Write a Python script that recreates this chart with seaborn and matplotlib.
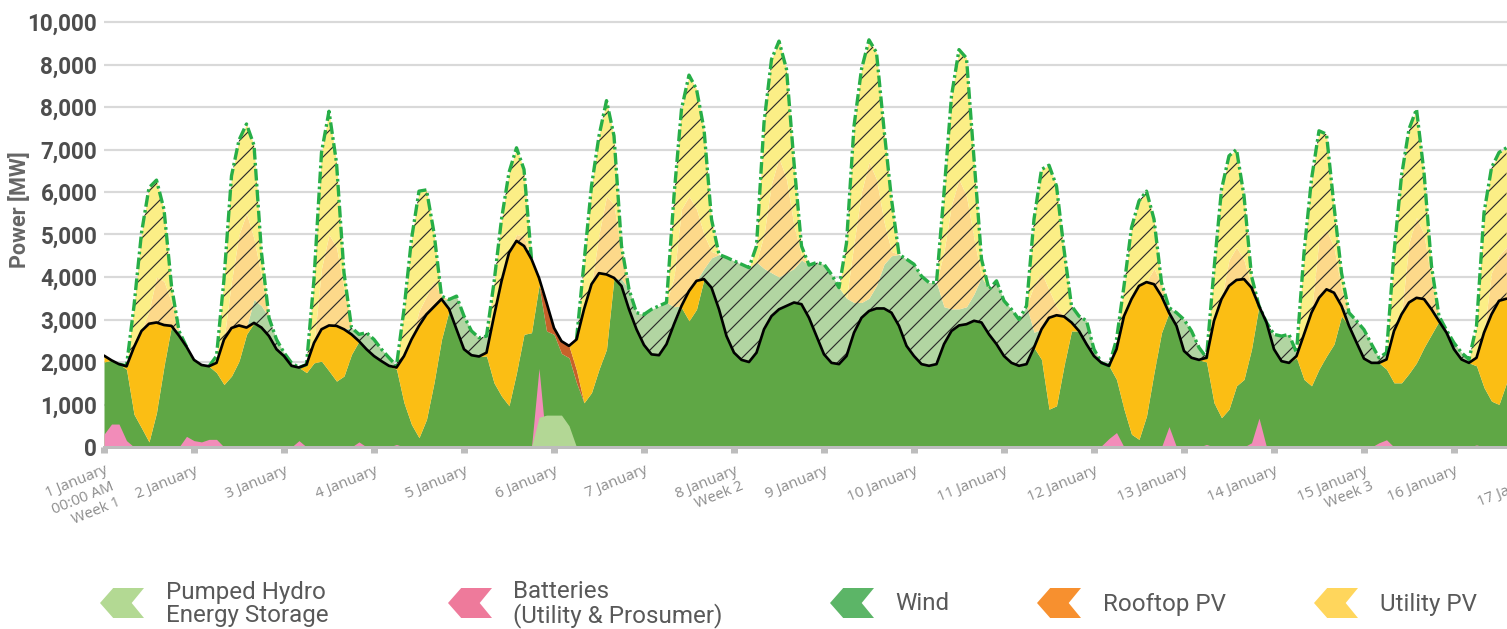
import numpy as np
import matplotlib
matplotlib.use('Agg')
import matplotlib.pyplot as plt
from matplotlib.patches import Polygon
import seaborn as sns

# two-hourly values, 12 per day, starting 1 January 00:00
demand = [
    2150, 2040, 1950, 1900, 2350, 2730, 2900, 2930, 2870, 2850, 2620, 2360,
    2050, 1930, 1900, 1980, 2530, 2800, 2860, 2810, 2920, 2810, 2610, 2300,
    2140, 1910, 1870, 1940, 2450, 2770, 2860, 2850, 2770, 2650, 2490, 2300,
    2140, 2020, 1910, 1870, 2140, 2530, 2850, 3120, 3300, 3480, 3250, 2770,
    2300, 2160, 2130, 2220, 3080, 3900, 4570, 4850, 4730, 4420, 3980, 3400,
    2800, 2490, 2380, 2530, 3240, 3830, 4090, 4060, 3980, 3790, 3240, 2770,
    2400, 2180, 2160, 2420, 2890, 3320, 3670, 3910, 3950, 3750, 3240, 2610,
    2220, 2050, 2000, 2220, 2770, 3080, 3240, 3320, 3400, 3360, 3040, 2610,
    2180, 1980, 1950, 2140, 2690, 3040, 3200, 3260, 3260, 3160, 2850, 2380,
    2140, 1950, 1910, 1950, 2420, 2730, 2860, 2890, 2970, 2930, 2650, 2420,
    2140, 1980, 1910, 1950, 2340, 2770, 3040, 3100, 3070, 2930, 2730, 2420,
    2140, 1980, 1910, 2300, 3080, 3480, 3790, 3880, 3830, 3550, 3160, 2850,
    2260, 2100, 2050, 2100, 2970, 3480, 3790, 3930, 3950, 3750, 3320, 2930,
    2300, 2020, 1980, 2140, 2650, 3160, 3510, 3710, 3630, 3320, 2850, 2460,
    2080, 1980, 1980, 2060, 2730, 3120, 3400, 3510, 3480, 3240, 2960, 2690,
    2300, 2060, 1980, 2100, 2690, 3120, 3440, 3490,
]

# top of the wind area actually used
wind = [
    2000, 2040, 1950, 1830, 770, 450, 120, 810, 1900, 2850, 2620, 2360,
    2050, 1930, 1900, 1750, 1470, 1670, 2020, 2650, 2920, 2810, 2610, 2300,
    2140, 1910, 1870, 1750, 1980, 2020, 1790, 1550, 1670, 2180, 2490, 2300,
    2140, 2020, 1910, 1830, 1040, 530, 220, 650, 1510, 2530, 3200, 2770,
    2300, 2160, 2130, 2140, 1510, 1200, 970, 1750, 2650, 2690, 3800, 2730,
    2650, 2200, 2100, 1510, 1040, 1280, 1830, 2300, 3980, 3790, 3240, 2770,
    2400, 2180, 2160, 2420, 2890, 3280, 2970, 3240, 3950, 3750, 3240, 2610,
    2220, 2050, 2000, 2220, 2770, 3080, 3240, 3320, 3400, 3360, 3040, 2610,
    2180, 1980, 1950, 2140, 2690, 3040, 3200, 3260, 3260, 3160, 2850, 2380,
    2140, 1950, 1910, 1950, 2420, 2730, 2860, 2890, 2970, 2930, 2650, 2420,
    2140, 1980, 1910, 1950, 2340, 2060, 890, 970, 1910, 2730, 2730, 2420,
    2140, 1980, 1910, 1590, 890, 300, 180, 730, 1750, 2690, 3160, 2850,
    2260, 2100, 2050, 2000, 1040, 690, 890, 1440, 1590, 2300, 3320, 2930,
    2300, 2020, 1980, 2100, 1590, 1440, 1830, 2140, 2420, 3080, 2850, 2460,
    2080, 1980, 1980, 1830, 1510, 1510, 1730, 1980, 2340, 2650, 2960, 2690,
    2300, 2060, 1980, 1910, 1400, 1080, 1000, 1510,
]

rooftop = [
    0, 0, 0, 0, 0, 0, 0, 0, 0, 0, 0, 0,
    0, 0, 0, 0, 0, 0, 0, 0, 0, 0, 0, 0,
    0, 0, 0, 0, 0, 0, 0, 0, 0, 0, 0, 0,
    0, 0, 0, 0, 0, 0, 0, 0, 0, 0, 0, 0,
    0, 0, 0, 0, 0, 0, 0, 0, 0, 0, 0, 660,
    150, 290, 280, 300, 0, 0, 0, 0, 0, 0, 0, 0,
] + [0] * 116

batteries = [
    300, 540, 540, 150, 0, 0, 0, 0, 0, 0, 0, 250,
    150, 120, 180, 180, 0, 0, 0, 0, 0, 0, 0, 0,
    0, 0, 150, 0, 0, 0, 0, 0, 0, 0, 120, 0,
    0, 0, 0, 60, 0, 0, 0, 0, 0, 0, 0, 0,
    0, 0, 0, 0, 0, 0, 0, 0, 0, 0, 1850, 0,
    0, 0, 0, 0, 0, 0, 0, 0, 0, 0, 0, 0,
    0, 0, 0, 0, 0, 0, 0, 0, 0, 0, 0, 0,
    0, 0, 0, 0, 0, 0, 0, 0, 0, 0, 0, 0,
    0, 0, 0, 0, 0, 0, 0, 0, 0, 0, 0, 0,
    0, 0, 0, 0, 0, 0, 0, 0, 0, 0, 0, 0,
    0, 0, 0, 0, 0, 0, 0, 0, 0, 0, 0, 0,
    0, 30, 200, 340, 0, 0, 0, 0, 0, 0, 480, 0,
    0, 0, 0, 60, 0, 0, 0, 0, 0, 100, 680, 0,
    0, 0, 0, 0, 0, 0, 0, 0, 0, 0, 0, 0,
    0, 0, 100, 170, 0, 0, 0, 0, 0, 0, 0, 0,
    0, 0, 0, 50, 0, 0, 0, 0,
]

pumped_hydro = [0] * 58 + [700, 750, 750, 750, 500] + [0] * 125

# curtailed: top of wind surplus, top of rooftop surplus, total available
wind_cap = [
    2150, 2040, 1950, 1900, 2350, 2730, 2900, 2930, 2870, 2850, 2730, 2360,
    2050, 1930, 1900, 1980, 2530, 2800, 2860, 2810, 3470, 3320, 3040, 2530,
    2220, 1980, 1870, 1940, 2450, 2770, 2860, 2850, 2770, 2810, 2650, 2690,
    2530, 2300, 2100, 1910, 2140, 2530, 2850, 3120, 3300, 3480, 3470, 3550,
    3080, 2730, 2570, 2610, 3080, 3900, 4570, 4850, 4730, 4420, 3980, 3400,
    2800, 2490, 2380, 2530, 3240, 3830, 4090, 4060, 3980, 3950, 3710, 3160,
    3120, 3240, 3320, 3400, 3300, 3320, 3670, 3910, 4200, 4450, 4530, 4460,
    4380, 4300, 4220, 4350, 4200, 4100, 4000, 4100, 4200, 4400, 4280, 4340,
    4300, 4060, 3750, 3500, 3400, 3400, 3500, 3800, 4300, 4500, 4530, 4420,
    4300, 4020, 3870, 3870, 3300, 3250, 3250, 3300, 3600, 4000, 3710, 3910,
    3440, 3240, 3000, 3320, 2700, 2770, 3040, 3100, 3070, 3320, 3080, 2970,
    2300, 1980, 1910, 2300, 3080, 3480, 3790, 3880, 3830, 3550, 3280, 3160,
    3000, 2730, 2340, 2100, 2970, 3480, 3790, 3930, 3950, 3750, 3320, 2930,
    2650, 2610, 2650, 2220, 2650, 3160, 3510, 3710, 3630, 3320, 3160, 2970,
    2760, 2420, 2100, 2220, 2730, 3120, 3400, 3510, 3480, 3240, 3080, 2750,
    2450, 2220, 2060, 2100, 2690, 3120, 3440, 3490,
]

rooftop_cap = [
    0, 0, 0, 0, 0, 0, 3200, 4000, 3900, 3400, 0, 0,
    0, 0, 0, 0, 0, 3900, 5000, 5500, 4900, 4000, 0, 0,
    0, 0, 0, 0, 0, 4200, 5000, 4700, 3700, 0, 0, 0,
    0, 0, 0, 0, 0, 0, 3200, 3550, 3900, 3550, 0, 0,
    0, 0, 0, 0, 0, 0, 0, 5000, 4950, 0, 0, 0,
    0, 0, 0, 0, 0, 0, 5000, 5900, 5700, 4500, 0, 0,
    0, 0, 0, 0, 4000, 5600, 5900, 5600, 5000, 4600, 0, 0,
    0, 0, 0, 0, 5000, 6200, 6800, 6300, 5200, 4500, 0, 0,
    0, 0, 0, 0, 4800, 6000, 6700, 6300, 5300, 4600, 0, 0,
    0, 0, 0, 0, 4600, 5700, 6300, 5900, 4900, 0, 0, 0,
    0, 0, 0, 0, 3800, 4100, 3700, 3300, 0, 0, 0, 0,
    0, 0, 0, 0, 0, 0, 0, 0, 4200, 3800, 0, 0,
    0, 0, 0, 0, 0, 0, 4400, 4700, 4400, 0, 0, 0,
    0, 0, 0, 0, 0, 0, 4900, 5100, 4700, 3700, 0, 0,
    0, 0, 0, 0, 0, 0, 4800, 5400, 5000, 3900, 0, 0,
    0, 0, 0, 0, 0, 4100, 4500, 4700,
]

total = [
    2150, 2040, 1950, 1910, 3320, 5040, 6100, 6280, 5590, 3790, 2730, 2360,
    2050, 1930, 1900, 2140, 3950, 6380, 7220, 7600, 7100, 4570, 3040, 2530,
    2220, 1980, 1870, 1940, 3950, 6930, 7900, 6690, 4100, 2810, 2650, 2690,
    2530, 2300, 2100, 1910, 3240, 4890, 6020, 6050, 5040, 3550, 3470, 3550,
    3080, 2730, 2570, 2610, 3870, 5360, 6460, 7040, 6530, 4420, 3980, 3400,
    2800, 2490, 2380, 2530, 4340, 6140, 7320, 8150, 7320, 4730, 3710, 3160,
    3120, 3240, 3320, 3400, 5910, 7950, 8750, 8420, 7480, 5360, 4530, 4460,
    4380, 4300, 4220, 4730, 7630, 9120, 9550, 8890, 6690, 4730, 4280, 4340,
    4300, 4060, 3750, 4800, 7550, 8890, 9580, 9280, 7480, 5830, 4530, 4420,
    4300, 4020, 3870, 3870, 5980, 8260, 9350, 9150, 6770, 4420, 3710, 3910,
    3440, 3240, 3000, 3320, 5360, 6530, 6630, 6140, 4650, 3320, 3080, 2970,
    2300, 1980, 1910, 2530, 3790, 5160, 5790, 6020, 5360, 3870, 3280, 3160,
    3000, 2730, 2340, 2100, 4180, 6060, 6850, 7000, 5910, 4020, 3320, 2930,
    2650, 2610, 2650, 2220, 4570, 6300, 7440, 7360, 5670, 4100, 3160, 2970,
    2760, 2420, 2100, 2220, 4570, 6380, 7480, 7950, 6460, 4260, 3080, 2750,
    2450, 2220, 2060, 2850, 5510, 6570, 6930, 7040,
]

day_labels = ['1 January\n00:00 AM\nWeek 1', '2 January', '3 January', '4 January',
              '5 January', '6 January', '7 January', '8 January\nWeek 2',
              '9 January', '10 January', '11 January', '12 January',
              '13 January', '14 January', '15 January\nWeek 3', '16 January',
              '17 January']
y_ticks = [0, 1000, 2000, 3000, 4000, 5000, 6000, 7000, 8000, 9000, 10000]
y_tick_labels = ['0', '1,000', '2,000', '3,000', '4,000', '5,000', '6,000',
                 '7,000', '8,000', '8,000', '10,000']

legend_labels = ['Pumped Hydro\nEnergy Storage', 'Batteries\n(Utility & Prosumer)',
                 'Wind', 'Rooftop PV', 'Utility PV']
legend_colors = ['#b3d993', '#ee7a9b', '#5cb567', '#f7902f', '#ffd65c']

sns.set_theme(style='white')
plt.rcParams['font.family'] = ['Roboto', 'DejaVu Sans']
plt.rcParams['hatch.linewidth'] = 0.7

W, H, DPI = 1507, 629, 120
fig = plt.figure(figsize=(W / DPI, H / DPI), dpi=DPI)
ax = fig.add_axes([104 / W, (H - 447) / H, 1403 / W, (447 - 17.75) / H])

x = np.arange(len(demand)) / 12.0
dem = np.array(demand, float)
wind_used = np.minimum(np.array(wind, float), dem)
roof_top = np.minimum(wind_used + np.array(rooftop, float), dem)
tot = np.maximum(np.array(total, float), dem)
green_cap = np.clip(np.array(wind_cap, float), dem, tot)
orange_cap = np.clip(np.array(rooftop_cap, float), green_cap, tot)

# energy used to meet demand
ax.fill_between(x, 0, wind_used, color='#5fa745', lw=0, zorder=2)
ax.fill_between(x, wind_used, roof_top, color='#c8612a', lw=0, zorder=2)
ax.fill_between(x, roof_top, dem, color='#fbbe14', lw=0, zorder=2)
ax.fill_between(x, 0, batteries, color='#f28cb9', lw=0, zorder=2)
ax.fill_between(x, 0, pumped_hydro, color='#b3d795', lw=0, zorder=2)

# curtailed energy above demand
ax.fill_between(x, dem, green_cap, color='#b2d5a2', lw=0, zorder=2)
ax.fill_between(x, green_cap, orange_cap, color='#fdd98a', lw=0, zorder=2)
ax.fill_between(x, orange_cap, tot, color='#fbee86', lw=0, zorder=2)
ax.fill_between(x, dem, tot, facecolor='none', edgecolor='#2b2b2b', hatch='//',
                lw=0, zorder=3)

nospill = (tot - dem) < 5
hide = nospill & np.roll(nospill, 1) & np.roll(nospill, -1)
ax.plot(x, np.ma.masked_where(hide, tot), color='#27ae47', lw=2.0,
        dashes=(3.5, 1.0, 0.8, 1.0), zorder=4)
sns.lineplot(x=x, y=dem, color='black', lw=1.6, ax=ax, zorder=5)

ax.set_xlim(0, 1403 / 90)
ax.set_ylim(0, 10100)
ax.set_yticks(y_ticks, y_tick_labels)
ax.grid(axis='y', color='#d9d9d9', lw=1.3)
ax.grid(axis='x', visible=False)
ax.set_axisbelow(True)
for s in ['top', 'right', 'left']:
    ax.spines[s].set_visible(False)
ax.spines['bottom'].set_color('#bdbdbd')
ax.spines['bottom'].set_linewidth(1.8)
ax.spines['bottom'].set_zorder(6)

ax.tick_params(axis='y', length=0, pad=4, labelsize=13.5, labelcolor='#4d4d4d')
for lab in ax.get_yticklabels():
    lab.set_fontweight('bold')

ax.set_xticks(np.arange(16), day_labels[:16])
ax.tick_params(axis='x', length=3.6, width=4.2, color='#bdbdbd', pad=6,
               labelsize=9, labelcolor='#8c8c8c', bottom=True)
for lab in ax.get_xticklabels():
    lab.set(rotation=22, ha='right', va='top', rotation_mode='anchor',
            family=['Open Sans', 'DejaVu Sans'], multialignment='right')
# the next day label, cut by the right edge of the figure as in the original
ax.text(16, -0.05, day_labels[16], transform=ax.get_xaxis_transform(),
        rotation=22, ha='right', va='top', rotation_mode='anchor',
        fontsize=9, color='#8c8c8c', family=['Open Sans', 'DejaVu Sans'])

ax.set_ylabel('Power [MW]', fontsize=13, fontweight='bold', color='#666666')
ax.yaxis.set_label_coords((31 - 104) / 1403, (447 - 210) / (447 - 17.75))

# legend with chevron markers, laid out in pixel coordinates
lax = fig.add_axes([0, 0, 1, 1], zorder=10)
lax.set_xlim(0, W)
lax.set_ylim(H, 0)
lax.axis('off')
chev = np.array([(0, 0.5), (0.3, 0), (1, 0), (0.72, 0.5), (1, 1), (0.3, 1)])
marker_x = [100, 448, 830, 1037, 1314]
text_x = [166, 513, 895, 1103, 1380]
for mx, tx, lab, col in zip(marker_x, text_x, legend_labels, legend_colors):
    pts = chev * [44, 30] + [mx, 588]
    lax.add_patch(Polygon(pts, closed=True, facecolor=col, edgecolor='none'))
    lax.text(tx, 604, lab, ha='left', va='center', fontsize=14.5,
             color='#595959', linespacing=1.0)

fig.savefig('out.png', dpi=DPI)
